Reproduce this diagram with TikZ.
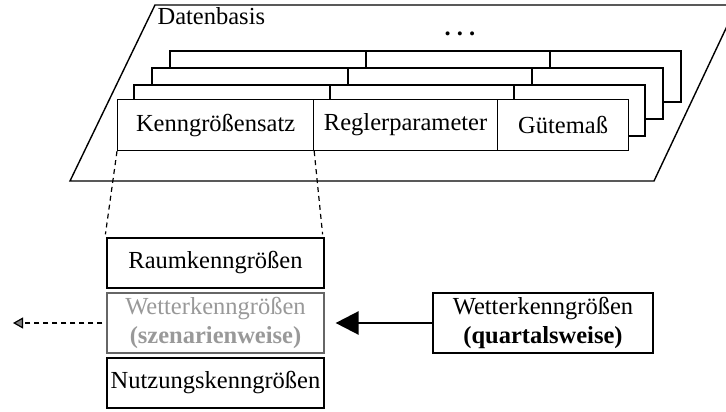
\documentclass[tikz,border=0pt]{standalone}
\usepackage{fontspec}
\setmainfont{Liberation Serif}
\usetikzlibrary{arrows.meta}
\definecolor{softgray}{HTML}{999999}
\definecolor{bordergray}{HTML}{666666}
\begin{document}
\begin{tikzpicture}[x=1pt,y=-1pt,
  font=\fontsize{24.5}{28.5}\selectfont,
  line width=1.2pt,
  cell/.style={draw, fill=white, minimum height=51pt, inner sep=0pt, anchor=north west},
  layer/.style={draw, fill=white},
  lbox/.style={draw, minimum width=217pt, inner sep=0pt, align=center},
  dashline/.style={dashed, dash pattern=on 5pt off 4pt}]
\path[use as bounding box] (0,0) rectangle (726,412);
\clip (0,0) rectangle (726,412);
% Datenbasis parallelogram
\draw[line width=1.4pt] (155,5) -- (737,5) -- (654,181) -- (70,181) -- cycle;
\node[anchor=base west, inner sep=0pt] (db) at (157,25) {Datenbasis};
\node[anchor=base, inner sep=0pt] (dots) at (460,36) {\textbf{.\hspace{0.25em}.\hspace{0.25em}.}};
% back layers
\foreach \lx/\ly in {170/51, 152/68, 134/85} {
  \draw[layer] (\lx,\ly) rectangle ++(511,51);
  \draw (\lx+196,\ly) -- ++(0,51);
  \draw (\lx+380,\ly) -- ++(0,51);
}
% front layer
\node[cell, minimum width=196pt] (k) at (117,99) {Kenngrößensatz};
\node[cell, minimum width=184pt] (r) at (313,99) {Reglerparameter};
\node[cell, minimum width=131pt] (g) at (497,99) {Gütemaß};
% lower boxes
\node[lbox, minimum height=50pt] (raum) at (215.5,263) {Raumkenngrößen};
\node[lbox, minimum height=60pt, draw=bordergray, text=softgray] (wetter) at (215.5,323) {Wetterkenngrößen\\\textbf{(szenarienweise)}};
\node[lbox, minimum height=50pt] (nutz) at (215.5,383) {Nutzungskenngrößen};
\node[lbox, minimum width=220pt, minimum height=60pt] (qw) at (543,323) {Wetterkenngrößen\\\textbf{(quartalsweise)}};
% connectors
\draw[dashline] (k.south west) -- ([xshift=-1pt,yshift=3pt]raum.north west);
\draw[dashline] (k.south east) -- ([xshift=-2pt,yshift=3pt]raum.north east);
\coordinate (leftend) at (13,323);
\draw[dashline, -{Triangle[length=10pt,width=11pt,fill=gray]}] ([xshift=-4pt]wetter.west) -- (leftend);
\draw[line width=2.5pt, -{Triangle[length=23pt,width=23pt]}] (qw.west) -- ([xshift=11pt]wetter.east);
\end{tikzpicture}
\end{document}
